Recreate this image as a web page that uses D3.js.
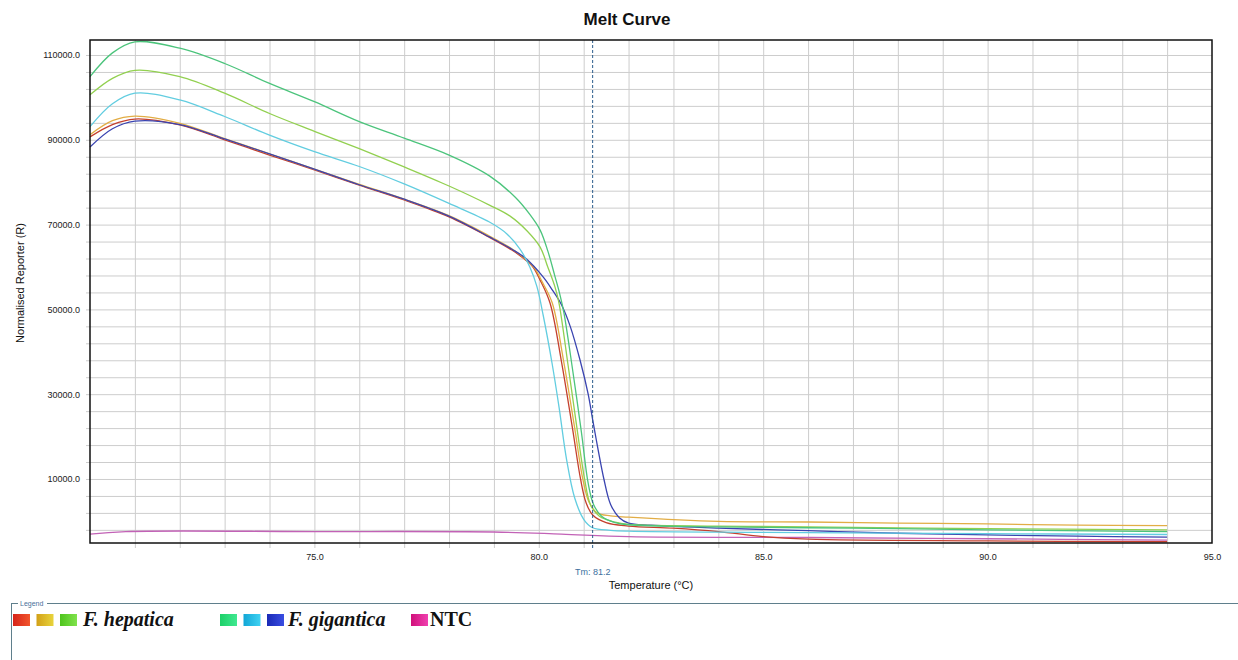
<!DOCTYPE html>
<html>
<head>
<meta charset="utf-8">
<script src="https://cdn.jsdelivr.net/npm/d3@7"></script>
<style>
  body { margin: 0; background: #fff; }
  svg text { font-family: "Liberation Sans", Arial, sans-serif; }
</style>
</head>
<body>
<div id="chart"></div>
<script>
// melt curves: [temperature (°C), normalised reporter]
const hepatica1 = [[70, 90700], [70.5, 93600], [71, 94900], [72, 93500], [73, 90000], [74, 86400], [75, 82900], [76, 79300], [77, 75800], [78, 71800], [78.9, 67000], [79.4, 64000], [79.65, 62100], [79.87, 60000], [80.03, 56900], [80.25, 51500], [80.5, 38000], [80.75, 22000], [80.93, 10000], [81.05, 4500], [81.2, 1500], [81.5, -300], [82, -1100], [83, -1600], [84, -2400], [85, -3600], [86, -4200], [90, -4600], [94, -4800]];
const hepatica2 = [[70, 91200], [70.5, 94500], [71, 95600], [72, 93900], [73, 90300], [74, 86700], [75, 83100], [76, 79500], [77, 76000], [78, 72100], [78.9, 67300], [79.4, 64300], [79.65, 62300], [79.9, 59800], [80.07, 56600], [80.3, 51500], [80.55, 38000], [80.8, 22000], [80.98, 10000], [81.12, 4500], [81.3, 2000], [81.6, 1300], [82, 1000], [84, 0], [86, -150], [88, -400], [90, -600], [92, -900], [94, -1000]];
const hepatica3 = [[70, 100600], [70.5, 104500], [71, 106400], [72, 104900], [73, 101000], [74, 96200], [75, 92000], [76, 87900], [77, 83600], [78, 79100], [78.9, 74600], [79.36, 72000], [79.74, 68500], [80.03, 64700], [80.2, 60000], [80.36, 55300], [80.45, 51500], [80.65, 37000], [80.85, 22000], [81.02, 10000], [81.15, 4000], [81.35, 1200], [81.7, -200], [82, -700], [84, -1100], [86, -1300], [90, -1700], [94, -2000]];
const gigantica1 = [[70, 104900], [70.5, 110500], [71, 113100], [72, 111600], [73, 108000], [74, 103300], [75, 99000], [76, 94300], [77, 90400], [78, 86400], [78.9, 81500], [79.47, 76500], [79.8, 72400], [80.03, 68700], [80.2, 63800], [80.36, 57800], [80.47, 53500], [80.56, 49200], [80.75, 36000], [80.95, 21000], [81.1, 9000], [81.22, 4000], [81.4, 1200], [81.7, -300], [82, -800], [84, -1300], [87, -1600], [90, -2000], [94, -2400]];
const gigantica2 = [[70, 93100], [70.5, 98500], [71, 101000], [72, 99400], [73, 95500], [74, 91100], [75, 87200], [76, 83700], [77, 79600], [78, 75000], [78.9, 70600], [79.29, 67800], [79.58, 64200], [79.8, 60000], [79.96, 55300], [80.1, 48500], [80.3, 37000], [80.45, 27000], [80.62, 14500], [80.8, 5500], [81, 500], [81.2, -1500], [81.6, -2100], [82, -2300], [85, -2600], [90, -2900], [94, -3100]];
const gigantica3 = [[70, 88300], [70.5, 92600], [71, 94400], [72, 93600], [73, 90200], [74, 86700], [75, 83100], [76, 79400], [77, 76000], [78, 72000], [78.9, 67100], [79.4, 64200], [79.7, 62100], [80.1, 57600], [80.3, 54600], [80.5, 51200], [80.7, 46000], [80.92, 38000], [81.1, 30000], [81.2, 24000], [81.32, 17000], [81.45, 10000], [81.6, 4000], [81.8, 800], [82, -400], [82.5, -900], [84, -1600], [86, -2200], [88, -2800], [90, -3200], [92, -3500], [94, -3700]];
const ntc = [[70, -3000], [70.8, -2400], [75, -2400], [79, -2500], [80.5, -3000], [82, -3600], [86, -3800], [90, -4100], [94, -4400]];

const seriesData = [ntc, hepatica1, hepatica2, gigantica3, gigantica2, hepatica3, gigantica1];
const seriesColors = ["#c262b6", "#c4402e", "#e2ad45", "#3a44b0", "#62cde0", "#92d050", "#4cc47c"];

const xTickValues = [75, 80, 85, 90, 95];
const yTickValues = [10000, 30000, 50000, 70000, 90000, 110000];
const tm = 81.2;

const legendGroups = [
  {label: "F. hepatica", italic: true, colors: [["#d6241a", "#f2562c"], ["#d2a018", "#e8d43c"], ["#4ec41c", "#80e24c"]]},
  {label: "F. gigantica", italic: true, colors: [["#1cd068", "#40e890"], ["#12a6d6", "#40d2f2"], ["#1a2ab6", "#3a4ee2"]]},
  {label: "NTC", italic: false, colors: [["#d0107a", "#f040b0"]]}
];
const legendStarts = [13, 220, 411];
const legendTextGaps = [6, 4, 2];

// dimensions
const W = 1238, H = 660;
const margin = {top: 40, right: 26, bottom: 117, left: 90},
  width = W - margin.left - margin.right,
  height = H - margin.top - margin.bottom;

const svg = d3.select("#chart")
  .append("svg")
  .attr("width", W)
  .attr("height", H);

const defs = svg.append("defs");

const g = svg.append("g")
  .attr("transform", `translate(${margin.left},${margin.top})`);

const x = d3.scaleLinear().domain([70, 95]).range([0, width]);
const y = d3.scaleLinear().domain([-5100, 113540]).range([height, 0]);

// horizontal grid (every 4000), sticking out a bit left of the axis
g.append("g")
  .attr("transform", `translate(${width},0)`)
  .call(d3.axisLeft(y).tickValues(d3.range(-2000, 110001, 4000)).tickSize(width + 4).tickFormat(""))
  .call(a => a.select(".domain").remove())
  .selectAll("line").attr("stroke", "#cdcdcd");

// vertical grid (every degree), sticking out below the axis
g.append("g")
  .call(d3.axisBottom(x).tickValues(d3.range(71, 95, 1)).tickSize(height + 5).tickFormat(""))
  .call(a => a.select(".domain").remove())
  .selectAll("line").attr("stroke", "#cdcdcd");

// tick labels
g.append("g")
  .call(d3.axisLeft(y).tickValues(yTickValues).tickSize(0).tickPadding(10).tickFormat(d3.format(".1f")))
  .call(a => a.select(".domain").remove())
  .selectAll("text")
  .style("font-size", "9px")
  .style("font-family", "'Liberation Sans', Arial, sans-serif")
  .attr("fill", "#222");

g.append("g")
  .attr("transform", `translate(0,${height})`)
  .call(d3.axisBottom(x).tickValues(xTickValues).tickSize(0).tickPadding(11).tickFormat(d3.format(".1f")))
  .call(a => a.select(".domain").remove())
  .selectAll("text")
  .style("font-size", "9px")
  .style("font-family", "'Liberation Sans', Arial, sans-serif")
  .attr("fill", "#222");

// curves
const line = d3.line()
  .x(d => x(d[0]))
  .y(d => y(d[1]))
  .curve(d3.curveCatmullRom.alpha(0.5));

g.append("g")
  .selectAll("path")
  .data(seriesData)
  .join("path")
  .attr("d", line)
  .attr("fill", "none")
  .attr("stroke", (d, i) => seriesColors[i])
  .attr("stroke-width", 1.3);

// Tm marker
g.append("line")
  .attr("x1", x(tm)).attr("x2", x(tm))
  .attr("y1", 0).attr("y2", height + 5)
  .attr("stroke", "#2b5d8c")
  .attr("stroke-width", 1)
  .attr("stroke-dasharray", "3,2");

g.append("text")
  .attr("x", x(tm))
  .attr("y", height + 32)
  .attr("text-anchor", "middle")
  .style("font-size", "9px")
  .attr("fill", "#3d6f9e")
  .text("Tm: " + tm.toFixed(1));

// frame
g.append("rect")
  .attr("width", width)
  .attr("height", height)
  .attr("fill", "none")
  .attr("stroke", "#111")
  .attr("stroke-width", 1.5);

// title and axis labels
svg.append("text")
  .attr("x", 627)
  .attr("y", 25)
  .attr("text-anchor", "middle")
  .style("font-size", "17px")
  .attr("font-weight", "bold")
  .attr("fill", "#111")
  .text("Melt Curve");

svg.append("text")
  .attr("x", margin.left + width / 2)
  .attr("y", 589)
  .attr("text-anchor", "middle")
  .style("font-size", "11px")
  .attr("fill", "#111")
  .text("Temperature (°C)");

svg.append("text")
  .attr("transform", "translate(24,283) rotate(-90)")
  .attr("text-anchor", "middle")
  .style("font-size", "11px")
  .attr("fill", "#111")
  .text("Normalised Reporter (R)");

// legend box
const lg = svg.append("g");
lg.append("rect")
  .attr("x", 11.5).attr("y", 603.5)
  .attr("width", 1240).attr("height", 80)
  .attr("fill", "none")
  .attr("stroke", "#5f7f8c")
  .attr("stroke-width", 1);
lg.append("rect")
  .attr("x", 18).attr("y", 599)
  .attr("width", 29).attr("height", 8)
  .attr("fill", "#fff");
lg.append("text")
  .attr("x", 20).attr("y", 606)
  .style("font-size", "7px")
  .attr("fill", "#4a6f9a")
  .text("Legend");

legendGroups.forEach((grp, gi) => {
  let cx = legendStarts[gi];
  grp.colors.forEach((c, ci) => {
    const id = `sw${gi}_${ci}`;
    const grad = defs.append("linearGradient").attr("id", id);
    grad.append("stop").attr("offset", "0%").attr("stop-color", c[0]);
    grad.append("stop").attr("offset", "100%").attr("stop-color", c[1]);
    lg.append("rect")
      .attr("x", cx).attr("y", 614)
      .attr("width", 17).attr("height", 12)
      .attr("fill", `url(#${id})`);
    cx += 23.5;
  });
  lg.append("text")
    .attr("x", cx - 6.5 + legendTextGaps[gi])
    .attr("y", 626)
    .style("font-family", "'Liberation Serif', 'Times New Roman', serif")
    .style("font-size", "20px")
    .style("font-weight", "bold")
    .style("font-style", grp.italic ? "italic" : "normal")
    .attr("fill", "#111")
    .text(grp.label);
});
</script>
</body>
</html>
